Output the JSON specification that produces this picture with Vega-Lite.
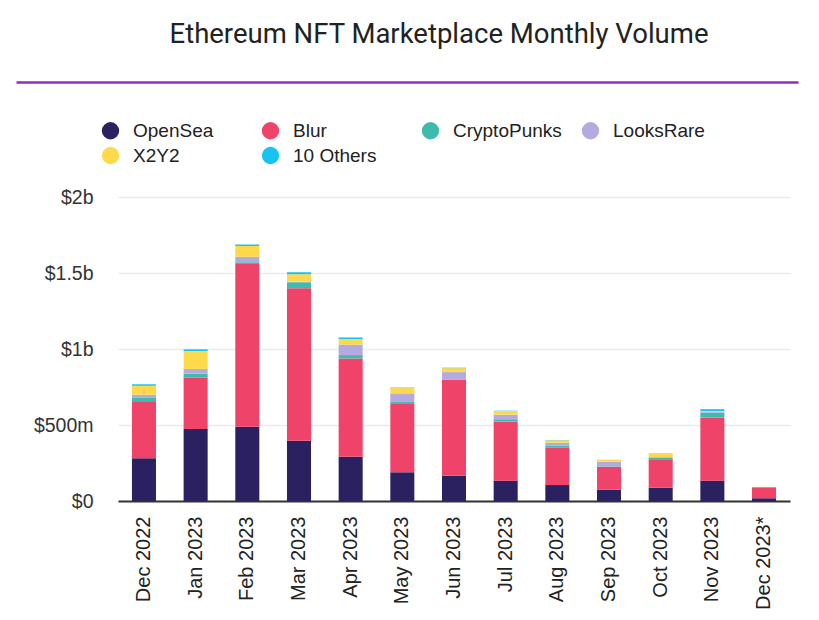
{
  "$schema": "https://vega.github.io/schema/vega-lite/v6.json",
  "background": "white",
  "padding": {"left": 15, "top": 21, "right": 0, "bottom": 0},
  "config": {"view": {"stroke": null}, "font": "Liberation Sans"},
  "spacing": 38,
  "columns": 1,
  "align": "none",
  "resolve": {"scale": {"x": "independent", "y": "independent", "color": "independent"}, "axis": {"x": "independent", "y": "independent"}, "legend": {"color": "independent"}},
  "concat": [
    {
      "width": 672,
      "height": 1,
      "title": {"text": "Ethereum NFT Marketplace Monthly Volume", "font": "Roboto", "fontSize": 27.5, "fontWeight": 400, "color": "#222222", "anchor": "middle", "frame": "group", "dx": -15, "offset": 33.5},
      "data": {"values": [{"v": 0}, {"v": 1}]},
      "mark": {"type": "tick", "opacity": 0},
      "encoding": {
        "x": {"field": "v", "type": "quantitative", "scale": {"domain": [0, 1], "nice": false, "zero": false, "range": [-102, 680]},
          "axis": {"orient": "top", "title": null, "labels": false, "ticks": false, "grid": false, "domainColor": "#8a2fc2", "domainWidth": 2.5, "minExtent": 0, "maxExtent": 0, "offset": 0}}
      }
    },
    {
      "width": 672,
      "height": 304,
      "data": {"values": [
        {"month": "Dec 2022", "market": "OpenSea", "volume": 0.281},
        {"month": "Dec 2022", "market": "Blur", "volume": 0.370},
        {"month": "Dec 2022", "market": "CryptoPunks", "volume": 0.031},
        {"month": "Dec 2022", "market": "LooksRare", "volume": 0.017},
        {"month": "Dec 2022", "market": "X2Y2", "volume": 0.059},
        {"month": "Dec 2022", "market": "10 Others", "volume": 0.010},
        {"month": "Jan 2023", "market": "OpenSea", "volume": 0.474},
        {"month": "Jan 2023", "market": "Blur", "volume": 0.338},
        {"month": "Jan 2023", "market": "CryptoPunks", "volume": 0.026},
        {"month": "Jan 2023", "market": "LooksRare", "volume": 0.031},
        {"month": "Jan 2023", "market": "X2Y2", "volume": 0.118},
        {"month": "Jan 2023", "market": "10 Others", "volume": 0.011},
        {"month": "Feb 2023", "market": "OpenSea", "volume": 0.489},
        {"month": "Feb 2023", "market": "Blur", "volume": 1.070},
        {"month": "Feb 2023", "market": "CryptoPunks", "volume": 0.011},
        {"month": "Feb 2023", "market": "LooksRare", "volume": 0.037},
        {"month": "Feb 2023", "market": "X2Y2", "volume": 0.070},
        {"month": "Feb 2023", "market": "10 Others", "volume": 0.011},
        {"month": "Mar 2023", "market": "OpenSea", "volume": 0.397},
        {"month": "Mar 2023", "market": "Blur", "volume": 1.003},
        {"month": "Mar 2023", "market": "CryptoPunks", "volume": 0.039},
        {"month": "Mar 2023", "market": "LooksRare", "volume": 0.004},
        {"month": "Mar 2023", "market": "X2Y2", "volume": 0.049},
        {"month": "Mar 2023", "market": "10 Others", "volume": 0.013},
        {"month": "Apr 2023", "market": "OpenSea", "volume": 0.291},
        {"month": "Apr 2023", "market": "Blur", "volume": 0.647},
        {"month": "Apr 2023", "market": "CryptoPunks", "volume": 0.022},
        {"month": "Apr 2023", "market": "LooksRare", "volume": 0.069},
        {"month": "Apr 2023", "market": "X2Y2", "volume": 0.036},
        {"month": "Apr 2023", "market": "10 Others", "volume": 0.011},
        {"month": "May 2023", "market": "OpenSea", "volume": 0.189},
        {"month": "May 2023", "market": "Blur", "volume": 0.449},
        {"month": "May 2023", "market": "CryptoPunks", "volume": 0.013},
        {"month": "May 2023", "market": "LooksRare", "volume": 0.057},
        {"month": "May 2023", "market": "X2Y2", "volume": 0.035},
        {"month": "May 2023", "market": "10 Others", "volume": 0.003},
        {"month": "Jun 2023", "market": "OpenSea", "volume": 0.166},
        {"month": "Jun 2023", "market": "Blur", "volume": 0.630},
        {"month": "Jun 2023", "market": "CryptoPunks", "volume": 0.004},
        {"month": "Jun 2023", "market": "LooksRare", "volume": 0.048},
        {"month": "Jun 2023", "market": "X2Y2", "volume": 0.026},
        {"month": "Jun 2023", "market": "10 Others", "volume": 0.003},
        {"month": "Jul 2023", "market": "OpenSea", "volume": 0.134},
        {"month": "Jul 2023", "market": "Blur", "volume": 0.388},
        {"month": "Jul 2023", "market": "CryptoPunks", "volume": 0.016},
        {"month": "Jul 2023", "market": "LooksRare", "volume": 0.030},
        {"month": "Jul 2023", "market": "X2Y2", "volume": 0.024},
        {"month": "Jul 2023", "market": "10 Others", "volume": 0.002},
        {"month": "Aug 2023", "market": "OpenSea", "volume": 0.105},
        {"month": "Aug 2023", "market": "Blur", "volume": 0.245},
        {"month": "Aug 2023", "market": "CryptoPunks", "volume": 0.013},
        {"month": "Aug 2023", "market": "LooksRare", "volume": 0.020},
        {"month": "Aug 2023", "market": "X2Y2", "volume": 0.016},
        {"month": "Aug 2023", "market": "10 Others", "volume": 0.002},
        {"month": "Sep 2023", "market": "OpenSea", "volume": 0.074},
        {"month": "Sep 2023", "market": "Blur", "volume": 0.151},
        {"month": "Sep 2023", "market": "CryptoPunks", "volume": 0.003},
        {"month": "Sep 2023", "market": "LooksRare", "volume": 0.031},
        {"month": "Sep 2023", "market": "X2Y2", "volume": 0.011},
        {"month": "Sep 2023", "market": "10 Others", "volume": 0.001},
        {"month": "Oct 2023", "market": "OpenSea", "volume": 0.088},
        {"month": "Oct 2023", "market": "Blur", "volume": 0.187},
        {"month": "Oct 2023", "market": "CryptoPunks", "volume": 0.011},
        {"month": "Oct 2023", "market": "LooksRare", "volume": 0.003},
        {"month": "Oct 2023", "market": "X2Y2", "volume": 0.022},
        {"month": "Oct 2023", "market": "10 Others", "volume": 0.002},
        {"month": "Nov 2023", "market": "OpenSea", "volume": 0.134},
        {"month": "Nov 2023", "market": "Blur", "volume": 0.414},
        {"month": "Nov 2023", "market": "CryptoPunks", "volume": 0.033},
        {"month": "Nov 2023", "market": "LooksRare", "volume": 0.008},
        {"month": "Nov 2023", "market": "X2Y2", "volume": 0.003},
        {"month": "Nov 2023", "market": "10 Others", "volume": 0.012},
        {"month": "Dec 2023*", "market": "OpenSea", "volume": 0.018},
        {"month": "Dec 2023*", "market": "Blur", "volume": 0.072},
        {"month": "Dec 2023*", "market": "CryptoPunks", "volume": 0.001},
        {"month": "Dec 2023*", "market": "LooksRare", "volume": 0.001},
        {"month": "Dec 2023*", "market": "X2Y2", "volume": 0.001},
        {"month": "Dec 2023*", "market": "10 Others", "volume": 0.0}
      ]},
      "transform": [
        {"calculate": "indexof(['OpenSea','Blur','CryptoPunks','LooksRare','X2Y2','10 Others'], datum.market)", "as": "stackOrder"}
      ],
      "mark": {"type": "bar"},
      "encoding": {
        "x": {"field": "month", "type": "nominal", "sort": null,
          "scale": {"paddingInner": 0.535, "paddingOuter": 0.27},
          "axis": {"title": null, "labelAngle": -90, "labelFontSize": 20, "labelColor": "#222222", "labelPadding": 15, "ticks": false, "domainColor": "#333333", "domainWidth": 2}},
        "y": {"field": "volume", "type": "quantitative", "aggregate": "sum", "stack": "zero",
          "scale": {"domain": [0, 2], "nice": false},
          "axis": {"title": null, "values": [0, 0.5, 1, 1.5, 2], "labelExpr": "datum.value == 0 ? '$0' : (datum.value < 1 ? '$' + round(datum.value * 1000) + 'm' : '$' + datum.value + 'b')", "labelFontSize": 19.5, "labelColor": "#333333", "labelPadding": 25, "ticks": false, "domain": false, "gridColor": "#ebebeb", "gridWidth": 1.5, "minExtent": 102}},
        "color": {"field": "market", "type": "nominal",
          "scale": {"domain": ["OpenSea", "Blur", "CryptoPunks", "LooksRare", "X2Y2", "10 Others"], "range": ["#2b2161", "#ef4369", "#3dbcad", "#b4aae0", "#fdd94b", "#19c3ef"]},
          "legend": {"title": null, "orient": "none", "legendX": -17, "legendY": -76, "direction": "horizontal", "columns": 4, "gridAlign": "all", "columnPadding": 19, "rowPadding": 5, "symbolType": "circle", "symbolSize": 300, "symbolStrokeWidth": 0, "labelFontSize": 19, "labelColor": "#222222", "labelOffset": 13, "padding": 0}},
        "order": {"field": "stackOrder", "type": "quantitative", "sort": "ascending"}
      }
    }
  ]
}
